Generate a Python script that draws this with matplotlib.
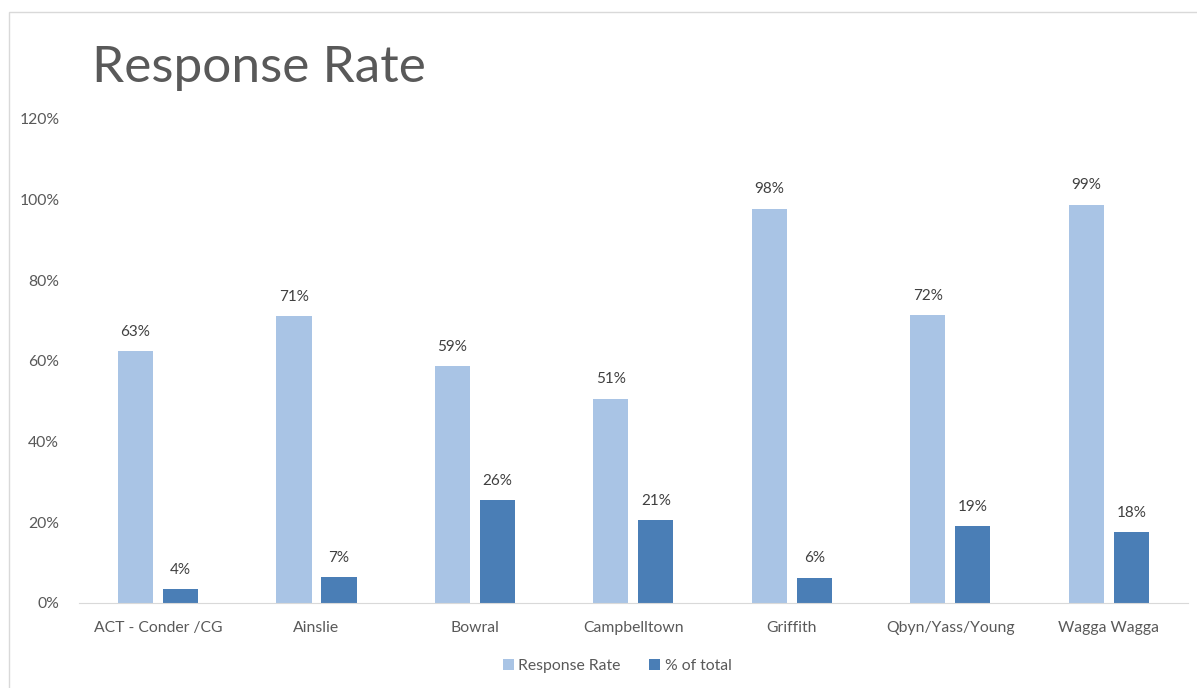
import matplotlib
matplotlib.use("Agg")
import matplotlib.pyplot as plt
import numpy as np
from matplotlib.patches import Rectangle

categories = ["ACT - Conder /CG", "Ainslie", "Bowral", "Campbelltown", "Griffith", "Qbyn/Yass/Young", "Wagga Wagga"]
response_rate = [0.625, 0.712, 0.587, 0.507, 0.978, 0.715, 0.988]
pct_of_total = [0.035, 0.065, 0.255, 0.205, 0.063, 0.19, 0.176]
rr_labels = ["63%", "71%", "59%", "51%", "98%", "72%", "99%"]
pt_labels = ["4%", "7%", "26%", "21%", "6%", "19%", "18%"]
yticks = [0, 0.2, 0.4, 0.6, 0.8, 1.0, 1.2]
ytick_labels = ["0%", "20%", "40%", "60%", "80%", "100%", "120%"]

plt.rcParams['font.family'] = ['Lato', 'DejaVu Sans']
light = "#A9C4E5"
dark = "#4A7EB6"
txt = "#595959"

fig = plt.figure(figsize=(11.97, 6.88), dpi=100)
fig.patches.append(Rectangle((9/1197, -0.01), 1.0, 1 - 12/688 + 0.01, transform=fig.transFigure,
                             fill=False, edgecolor="#D9D9D9", linewidth=1))
ax = fig.add_axes([78.75/1197, 1 - 603/688, (1188 - 78.75)/1197, (603 - 119)/688])

x = np.arange(len(categories))
w = 0.222
off = 0.142
b1 = ax.bar(x - off, response_rate, w, color=light, label="Response Rate")
b2 = ax.bar(x + off, pct_of_total, w, color=dark, label="% of total")
for xi, v, l in zip(x - off, response_rate, rr_labels):
    ax.text(xi, v + 0.03, l, ha="center", va="bottom", fontsize=11, color="#404040")
for xi, v, l in zip(x + off, pct_of_total, pt_labels):
    ax.text(xi, v + 0.03, l, ha="center", va="bottom", fontsize=11, color="#404040")

ax.set_xlim(-0.5, len(categories) - 0.5)
ax.set_ylim(0, 1.2)
ax.set_yticks(yticks)
ax.set_yticklabels(ytick_labels)
ax.set_xticks(x)
ax.set_xticklabels(categories)
ax.tick_params(axis="both", length=0, colors=txt, labelsize=11.3)
ax.tick_params(axis="x", pad=13)
ax.tick_params(axis="y", pad=14)
for s in ["top", "right", "left"]:
    ax.spines[s].set_visible(False)
ax.spines["bottom"].set_color("#D9D9D9")

fig.text(92/1197, 1 - 68/688, "Response Rate", fontsize=37, color="#595959", va="center", ha="left")

leg = fig.legend(handles=[b1, b2], loc="center", bbox_to_anchor=(617/1197, 1 - 666/688), ncol=2,
                 frameon=False, fontsize=11.3, handlelength=0.7, handleheight=0.7,
                 handletextpad=0.3, columnspacing=1.8)
for t in leg.get_texts():
    t.set_color(txt)

fig.savefig("out.png", dpi=100)
